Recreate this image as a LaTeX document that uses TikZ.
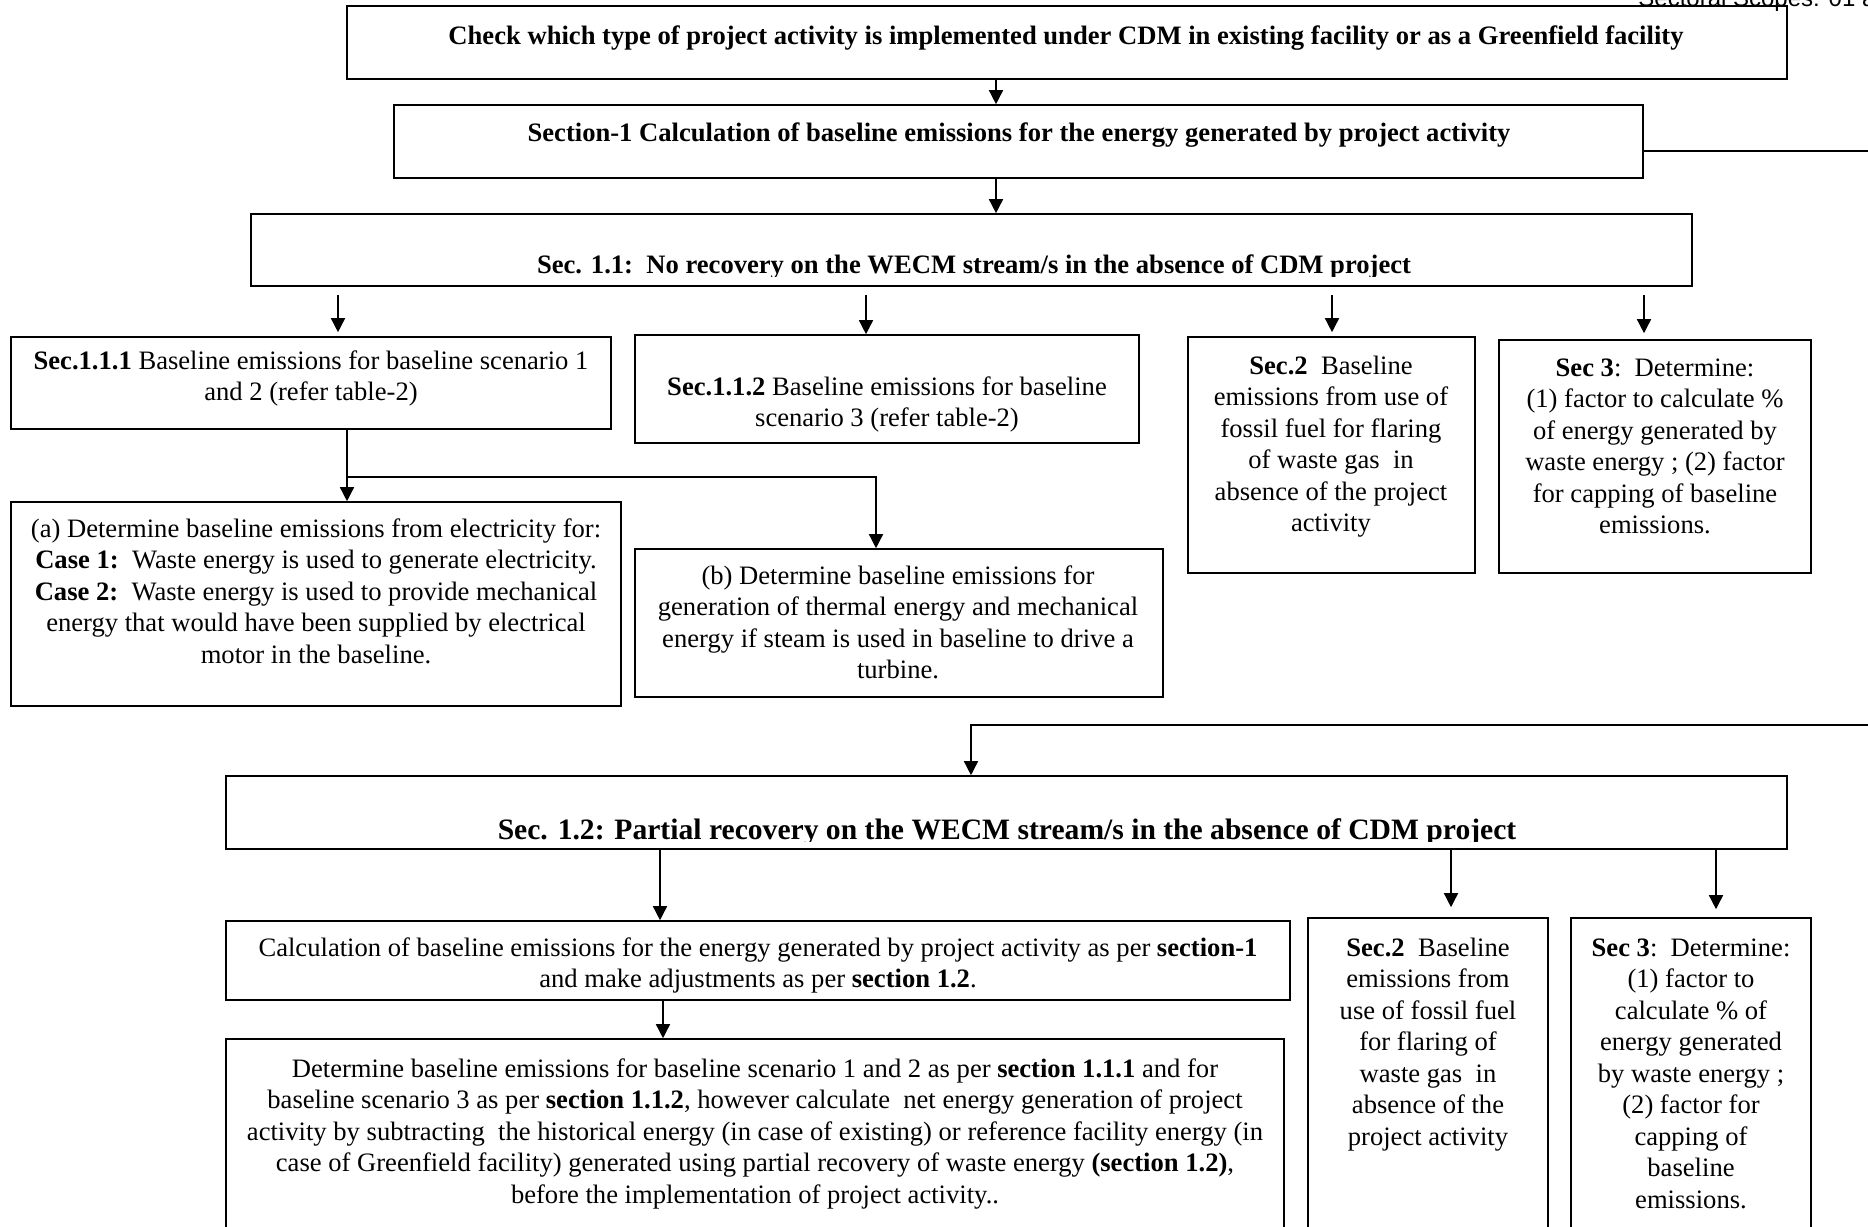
\documentclass[tikz,border=0pt]{standalone}
\usepackage{fontspec}
\setmainfont{Liberation Serif}
\newfontfamily\hdrfont{Liberation Sans}
\usetikzlibrary{arrows.meta,fit}
\newcommand{\mlines}[1]{\begin{tabular}[t]{@{}c@{}}#1\end{tabular}}
\begin{document}
\begin{tikzpicture}[x=0.5pt,y=-0.5pt,
  bx/.style={draw, line width=0.8pt, inner sep=0pt},
  txt/.style={inner sep=0pt, font=\fontsize{13.3}{15.75}\selectfont},
  ttl/.style={inner sep=0pt, font=\bfseries\fontsize{13.3}{15.75}\selectfont},
  ttlb/.style={inner sep=0pt, font=\bfseries\fontsize{14.8}{17}\selectfont},
  arr/.style={line width=0.75pt, -{Triangle[length=7pt,width=7pt]}},
  ln/.style={line width=0.75pt}]
\useasboundingbox (0,0) rectangle (1868,1226);

% header
\node[anchor=base west, inner sep=0pt, font=\hdrfont\fontsize{12}{14}\selectfont] (hdr) at (1638,6) {Sectoral Scopes: 01 a};

% top boxes
\node[bx, fit={(347,6) (1787,79)}] (b1) {};
\node[ttl, anchor=base] (t1) at (1066,44) {Check which type of project activity is implemented under CDM in existing facility or as a Greenfield facility};
\node[bx, fit={(394,105) (1643,178)}] (b2) {};
\node[ttl, anchor=base] (t2) at (1019,141) {Section-1 Calculation of baseline emissions for the energy generated by project activity};
\node[bx, fit={(251,214) (1692,286)}] (b3) {};
\begin{scope}
\clip (252,215) rectangle (1691,276);
\node[ttl, anchor=base] (t3) at (974,273) {Sec. 1.1:\ \ No recovery on the WECM stream/s in the absence of CDM project};
\end{scope}

% row 2
\node[bx, fit={(11,337) (611,429)}] (b111) {};
\node[txt, anchor=base] (t111) at (311,369) {\mlines{\textbf{Sec.1.1.1} Baseline emissions for baseline scenario 1\\and 2 (refer table-2)}};
\node[bx, fit={(635,335) (1139,443)}] (b112) {};
\node[txt, anchor=base] (t112) at (887,395) {\mlines{\textbf{Sec.1.1.2} Baseline emissions for baseline\\scenario 3 (refer table-2)}};
\node[bx, fit={(1188,337) (1475,573)}] (b2a) {};
\node[txt, anchor=base] (t2a) at (1331,374) {\mlines{\textbf{Sec.2}\ \ Baseline\\emissions from use of\\fossil fuel for flaring\\of waste gas\ \ in\\absence of the project\\activity}};
\node[bx, fit={(1499,340) (1811,573)}] (b3a) {};
\node[txt, anchor=base] (t3a) at (1655,376) {\mlines{\textbf{Sec 3}:\ \ Determine:\\(1) factor to calculate \%\\of energy generated by\\waste energy ; (2) factor\\for capping of baseline\\emissions.}};

% row 3
\node[bx, fit={(11,502) (621,706)}] (ba) {};
\node[txt, anchor=base] (ta) at (316,537) {\mlines{(a) Determine baseline emissions from electricity for:\\\textbf{Case 1:}\ \ Waste energy is used to generate electricity.\\\textbf{Case 2:}\ \ Waste energy is used to provide mechanical\\energy that would have been supplied by electrical\\motor in the baseline.}};
\node[bx, fit={(635,549) (1163,697)}] (bb) {};
\node[txt, anchor=base] (tb) at (898,584) {\mlines{(b) Determine baseline emissions for\\generation of thermal energy and mechanical\\energy if steam is used in baseline to drive a\\turbine.}};

% section 1.2
\node[bx, fit={(226,776) (1787,849)}] (b12) {};
\begin{scope}
\clip (227,777) rectangle (1786,841);
\node[ttlb, anchor=base] (t12) at (1007,839) {Sec. 1.2: Partial recovery on the WECM stream/s in the absence of CDM project};
\end{scope}

\node[bx, fit={(226,921) (1290,1000)}] (bcalc) {};
\node[txt, anchor=base] (tcalc) at (758,956) {\mlines{Calculation of baseline emissions for the energy generated by project activity as per \textbf{section-1}\\and make adjustments as per \textbf{section 1.2}.}};
\node[bx, fit={(226,1039) (1284,1240)}] (bdet) {};
\node[txt, anchor=base] (tdet) at (755,1077) {\mlines{Determine baseline emissions for baseline scenario 1 and 2 as per \textbf{section 1.1.1} and for\\baseline scenario 3 as per \textbf{section 1.1.2}, however calculate\ \ net energy generation of project\\activity by subtracting\ \ the historical energy (in case of existing) or reference facility energy (in\\case of Greenfield facility) generated using partial recovery of waste energy \textbf{(section 1.2)},\\before the implementation of project activity..}};
\node[bx, fit={(1308,918) (1548,1240)}] (b2b) {};
\node[txt, anchor=base] (t2b) at (1428,956) {\mlines{\textbf{Sec.2}\ \ Baseline\\emissions from\\use of fossil fuel\\for flaring of\\waste gas\ \ in\\absence of the\\project activity}};
\node[bx, fit={(1571,918) (1811,1240)}] (b3b) {};
\node[txt, anchor=base] (t3b) at (1691,956) {\mlines{\textbf{Sec 3}:\ \ Determine:\\(1) factor to\\calculate \% of\\energy generated\\by waste energy ;\\(2) factor for\\capping of\\baseline\\emissions.}};

% connectors
\draw[arr] (b1.south -| 996,0) -- (b2.north -| 996,0);
\draw[arr] (b2.south -| 996,0) -- (b3.north -| 996,0);
\coordinate (edgeA) at (1868,151);
\draw[ln] (b2.east |- edgeA) -- (edgeA);
\draw[arr, shorten <=4pt, shorten >=2pt] (b3.south -| 338,0) -- (b111.north -| 338,0);
\draw[arr, shorten <=4pt] (b3.south -| 866,0) -- (b112.north -| 866,0);
\draw[arr, shorten <=4pt, shorten >=2pt] (b3.south -| 1332,0) -- (b2a.north -| 1332,0);
\draw[arr, shorten <=4pt, shorten >=3pt] (b3.south -| 1644,0) -- (b3a.north -| 1644,0);
\draw[arr] (b111.south -| 347,0) -- (ba.north -| 347,0);
\coordinate (br1) at (347,477);
\draw[arr] (br1) -| (bb.north -| 876,0);
\coordinate (edgeB) at (1868,725);
\draw[arr] (edgeB) -| (b12.north -| 971,0);
\draw[arr] (b12.south -| 660,0) -- (bcalc.north -| 660,0);
\draw[arr, shorten >=5pt] (b12.south -| 1451,0) -- (b2b.north -| 1451,0);
\draw[arr, shorten >=4pt] (b12.south -| 1716,0) -- (b3b.north -| 1716,0);
\draw[arr] (bcalc.south -| 663,0) -- (bdet.north -| 663,0);
\end{tikzpicture}
\end{document}
